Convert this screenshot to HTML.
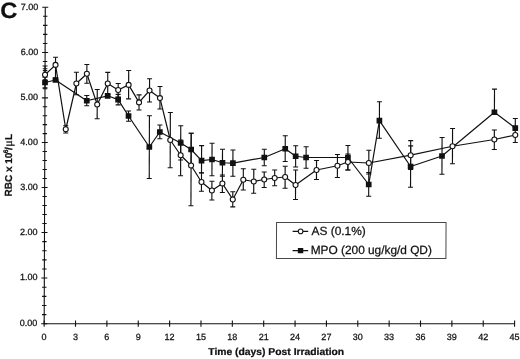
<!DOCTYPE html>
<html lang="en"><head><meta charset="utf-8"><title>Figure C</title>
<style>html,body{margin:0;padding:0;background:#fff}svg{display:block}text{font-family:"Liberation Sans",Arial,sans-serif;fill:#111;stroke:#111;stroke-width:0.25px}</style></head><body>
<svg width="520" height="359" viewBox="0 0 520 359">
<rect width="520" height="359" fill="#fff"/>
<g transform="matrix(1 0 -0.0035 1 1.133 0)">
<g stroke="#111" stroke-width="1.1" fill="none">
<line x1="44.17" y1="7.25" x2="44.17" y2="324.3"/>
<line x1="43.67" y1="323.8" x2="514.60" y2="323.8"/>
<line x1="41.17" y1="323.80" x2="47.17" y2="323.80"/>
<line x1="41.97" y1="314.65" x2="46.370000000000005" y2="314.65"/>
<line x1="41.97" y1="305.50" x2="46.370000000000005" y2="305.50"/>
<line x1="41.97" y1="296.35" x2="46.370000000000005" y2="296.35"/>
<line x1="41.97" y1="287.20" x2="46.370000000000005" y2="287.20"/>
<line x1="41.17" y1="278.05" x2="47.17" y2="278.05"/>
<line x1="41.97" y1="268.95" x2="46.370000000000005" y2="268.95"/>
<line x1="41.97" y1="259.85" x2="46.370000000000005" y2="259.85"/>
<line x1="41.97" y1="250.75" x2="46.370000000000005" y2="250.75"/>
<line x1="41.97" y1="241.65" x2="46.370000000000005" y2="241.65"/>
<line x1="41.17" y1="232.55" x2="47.17" y2="232.55"/>
<line x1="41.97" y1="223.54" x2="46.370000000000005" y2="223.54"/>
<line x1="41.97" y1="214.53" x2="46.370000000000005" y2="214.53"/>
<line x1="41.97" y1="205.52" x2="46.370000000000005" y2="205.52"/>
<line x1="41.97" y1="196.51" x2="46.370000000000005" y2="196.51"/>
<line x1="41.17" y1="187.50" x2="47.17" y2="187.50"/>
<line x1="41.97" y1="178.51" x2="46.370000000000005" y2="178.51"/>
<line x1="41.97" y1="169.52" x2="46.370000000000005" y2="169.52"/>
<line x1="41.97" y1="160.53" x2="46.370000000000005" y2="160.53"/>
<line x1="41.97" y1="151.54" x2="46.370000000000005" y2="151.54"/>
<line x1="41.17" y1="142.55" x2="47.17" y2="142.55"/>
<line x1="41.97" y1="133.61" x2="46.370000000000005" y2="133.61"/>
<line x1="41.97" y1="124.67" x2="46.370000000000005" y2="124.67"/>
<line x1="41.97" y1="115.73" x2="46.370000000000005" y2="115.73"/>
<line x1="41.97" y1="106.79" x2="46.370000000000005" y2="106.79"/>
<line x1="41.17" y1="97.85" x2="47.17" y2="97.85"/>
<line x1="41.97" y1="88.78" x2="46.370000000000005" y2="88.78"/>
<line x1="41.97" y1="79.71" x2="46.370000000000005" y2="79.71"/>
<line x1="41.97" y1="70.64" x2="46.370000000000005" y2="70.64"/>
<line x1="41.97" y1="61.57" x2="46.370000000000005" y2="61.57"/>
<line x1="41.17" y1="52.50" x2="47.17" y2="52.50"/>
<line x1="41.97" y1="43.45" x2="46.370000000000005" y2="43.45"/>
<line x1="41.97" y1="34.40" x2="46.370000000000005" y2="34.40"/>
<line x1="41.97" y1="25.35" x2="46.370000000000005" y2="25.35"/>
<line x1="41.97" y1="16.30" x2="46.370000000000005" y2="16.30"/>
<line x1="41.17" y1="7.25" x2="47.17" y2="7.25"/>
<line x1="44.17" y1="320.6" x2="44.17" y2="326.8"/>
<line x1="75.53" y1="320.6" x2="75.53" y2="326.8"/>
<line x1="106.89" y1="320.6" x2="106.89" y2="326.8"/>
<line x1="138.26" y1="320.6" x2="138.26" y2="326.8"/>
<line x1="169.62" y1="320.6" x2="169.62" y2="326.8"/>
<line x1="200.98" y1="320.6" x2="200.98" y2="326.8"/>
<line x1="232.34" y1="320.6" x2="232.34" y2="326.8"/>
<line x1="263.70" y1="320.6" x2="263.70" y2="326.8"/>
<line x1="295.07" y1="320.6" x2="295.07" y2="326.8"/>
<line x1="326.43" y1="320.6" x2="326.43" y2="326.8"/>
<line x1="357.79" y1="320.6" x2="357.79" y2="326.8"/>
<line x1="389.15" y1="320.6" x2="389.15" y2="326.8"/>
<line x1="420.51" y1="320.6" x2="420.51" y2="326.8"/>
<line x1="451.88" y1="320.6" x2="451.88" y2="326.8"/>
<line x1="483.24" y1="320.6" x2="483.24" y2="326.8"/>
<line x1="514.60" y1="320.6" x2="514.60" y2="326.8"/>
</g>
<text transform="translate(37.27 326.10) scale(1 1)" font-size="9" text-anchor="end">0.00</text>
<text transform="translate(37.27 280.35) scale(1 1)" font-size="9" text-anchor="end">1.00</text>
<text transform="translate(37.27 234.85) scale(1 1)" font-size="9" text-anchor="end">2.00</text>
<text transform="translate(37.27 189.80) scale(1 1)" font-size="9" text-anchor="end">3.00</text>
<text transform="translate(37.27 144.85) scale(1 1)" font-size="9" text-anchor="end">4.00</text>
<text transform="translate(37.27 100.15) scale(1 1)" font-size="9" text-anchor="end">5.00</text>
<text transform="translate(37.27 54.80) scale(1 1)" font-size="9" text-anchor="end">6.00</text>
<text transform="translate(37.27 9.55) scale(1 1)" font-size="9" text-anchor="end">7.00</text>
<text transform="translate(44.17 340.30) scale(1 1)" font-size="9" text-anchor="middle">0</text>
<text transform="translate(75.53 340.30) scale(1 1)" font-size="9" text-anchor="middle">3</text>
<text transform="translate(106.89 340.30) scale(1 1)" font-size="9" text-anchor="middle">6</text>
<text transform="translate(138.26 340.30) scale(1 1)" font-size="9" text-anchor="middle">9</text>
<text transform="translate(169.62 340.30) scale(1 1)" font-size="9" text-anchor="middle">12</text>
<text transform="translate(200.98 340.30) scale(1 1)" font-size="9" text-anchor="middle">15</text>
<text transform="translate(232.34 340.30) scale(1 1)" font-size="9" text-anchor="middle">18</text>
<text transform="translate(263.70 340.30) scale(1 1)" font-size="9" text-anchor="middle">21</text>
<text transform="translate(295.07 340.30) scale(1 1)" font-size="9" text-anchor="middle">24</text>
<text transform="translate(326.43 340.30) scale(1 1)" font-size="9" text-anchor="middle">27</text>
<text transform="translate(357.79 340.30) scale(1 1)" font-size="9" text-anchor="middle">30</text>
<text transform="translate(389.15 340.30) scale(1 1)" font-size="9" text-anchor="middle">33</text>
<text transform="translate(420.51 340.30) scale(1 1)" font-size="9" text-anchor="middle">36</text>
<text transform="translate(451.88 340.30) scale(1 1)" font-size="9" text-anchor="middle">39</text>
<text transform="translate(483.24 340.30) scale(1 1)" font-size="9" text-anchor="middle">42</text>
<text transform="translate(514.60 340.30) scale(1 1)" font-size="9" text-anchor="middle">45</text>
<g stroke="#111" stroke-width="1.15" fill="none">
<line x1="44.17" y1="77.2" x2="44.17" y2="87.8"/>
<line x1="41.67" y1="77.2" x2="46.67" y2="77.2"/>
<line x1="41.67" y1="87.8" x2="46.67" y2="87.8"/>
<line x1="54.62" y1="80.0" x2="54.62" y2="80.0"/>
<line x1="85.99" y1="95.5" x2="85.99" y2="105.75"/>
<line x1="83.49" y1="95.5" x2="88.49" y2="95.5"/>
<line x1="83.49" y1="105.75" x2="88.49" y2="105.75"/>
<line x1="106.89" y1="95.8" x2="106.89" y2="95.8"/>
<line x1="117.35" y1="94.3" x2="117.35" y2="104.9"/>
<line x1="114.85" y1="94.3" x2="119.85" y2="94.3"/>
<line x1="114.85" y1="104.9" x2="119.85" y2="104.9"/>
<line x1="127.80" y1="111.0" x2="127.80" y2="121.25"/>
<line x1="125.30" y1="111.0" x2="130.30" y2="111.0"/>
<line x1="125.30" y1="121.25" x2="130.30" y2="121.25"/>
<line x1="148.71" y1="115.75" x2="148.71" y2="178.5"/>
<line x1="146.21" y1="115.75" x2="151.21" y2="115.75"/>
<line x1="146.21" y1="178.5" x2="151.21" y2="178.5"/>
<line x1="159.16" y1="125.0" x2="159.16" y2="138.75"/>
<line x1="156.66" y1="125.0" x2="161.66" y2="125.0"/>
<line x1="156.66" y1="138.75" x2="161.66" y2="138.75"/>
<line x1="180.07" y1="125.75" x2="180.07" y2="160.0"/>
<line x1="177.57" y1="125.75" x2="182.57" y2="125.75"/>
<line x1="177.57" y1="160.0" x2="182.57" y2="160.0"/>
<line x1="190.53" y1="133.25" x2="190.53" y2="165.75"/>
<line x1="188.03" y1="133.25" x2="193.03" y2="133.25"/>
<line x1="188.03" y1="165.75" x2="193.03" y2="165.75"/>
<line x1="200.98" y1="145.6" x2="200.98" y2="173.0"/>
<line x1="198.48" y1="145.6" x2="203.48" y2="145.6"/>
<line x1="198.48" y1="173.0" x2="203.48" y2="173.0"/>
<line x1="211.43" y1="143.25" x2="211.43" y2="175.75"/>
<line x1="208.93" y1="143.25" x2="213.93" y2="143.25"/>
<line x1="208.93" y1="175.75" x2="213.93" y2="175.75"/>
<line x1="221.89" y1="149.25" x2="221.89" y2="176.25"/>
<line x1="219.39" y1="149.25" x2="224.39" y2="149.25"/>
<line x1="219.39" y1="176.25" x2="224.39" y2="176.25"/>
<line x1="232.34" y1="150.0" x2="232.34" y2="176.25"/>
<line x1="229.84" y1="150.0" x2="234.84" y2="150.0"/>
<line x1="229.84" y1="176.25" x2="234.84" y2="176.25"/>
<line x1="263.70" y1="149.25" x2="263.70" y2="165.75"/>
<line x1="261.20" y1="149.25" x2="266.20" y2="149.25"/>
<line x1="261.20" y1="165.75" x2="266.20" y2="165.75"/>
<line x1="284.61" y1="135.75" x2="284.61" y2="161.5"/>
<line x1="282.11" y1="135.75" x2="287.11" y2="135.75"/>
<line x1="282.11" y1="161.5" x2="287.11" y2="161.5"/>
<line x1="295.07" y1="145.75" x2="295.07" y2="167.0"/>
<line x1="292.57" y1="145.75" x2="297.57" y2="145.75"/>
<line x1="292.57" y1="167.0" x2="297.57" y2="167.0"/>
<line x1="305.52" y1="146.75" x2="305.52" y2="168.25"/>
<line x1="303.02" y1="146.75" x2="308.02" y2="146.75"/>
<line x1="303.02" y1="168.25" x2="308.02" y2="168.25"/>
<line x1="347.34" y1="145.5" x2="347.34" y2="170.0"/>
<line x1="344.84" y1="145.5" x2="349.84" y2="145.5"/>
<line x1="344.84" y1="170.0" x2="349.84" y2="170.0"/>
<line x1="368.24" y1="172.5" x2="368.24" y2="196.25"/>
<line x1="365.74" y1="172.5" x2="370.74" y2="172.5"/>
<line x1="365.74" y1="196.25" x2="370.74" y2="196.25"/>
<line x1="378.70" y1="101.75" x2="378.70" y2="138.25"/>
<line x1="376.20" y1="101.75" x2="381.20" y2="101.75"/>
<line x1="376.20" y1="138.25" x2="381.20" y2="138.25"/>
<line x1="410.06" y1="145.9" x2="410.06" y2="187.2"/>
<line x1="407.56" y1="145.9" x2="412.56" y2="145.9"/>
<line x1="407.56" y1="187.2" x2="412.56" y2="187.2"/>
<line x1="441.42" y1="137.5" x2="441.42" y2="174.25"/>
<line x1="438.92" y1="137.5" x2="443.92" y2="137.5"/>
<line x1="438.92" y1="174.25" x2="443.92" y2="174.25"/>
<line x1="493.69" y1="89.1" x2="493.69" y2="112.25"/>
<line x1="491.19" y1="89.1" x2="496.19" y2="89.1"/>
<line x1="514.60" y1="118.5" x2="514.60" y2="128.1"/>
<line x1="512.10" y1="118.5" x2="517.10" y2="118.5"/>
</g>
<polyline points="44.17,82.5 54.62,80.0 85.99,100.75 106.89,95.8 117.35,99.6 127.80,116.0 148.71,147.0 159.16,132.0 180.07,143.0 190.53,149.5 200.98,160.6 211.43,159.5 221.89,162.75 232.34,163.1 263.70,157.5 284.61,148.75 295.07,156.25 305.52,157.5 347.34,157.5 368.24,184.5 378.70,120.6 410.06,166.5 441.42,156.0 493.69,112.25 514.60,128.1" fill="none" stroke="#111" stroke-width="1.2" stroke-linejoin="round"/>
<rect x="41.32" y="79.65" width="5.7" height="5.7" fill="#111"/>
<rect x="51.77" y="77.15" width="5.7" height="5.7" fill="#111"/>
<rect x="83.14" y="97.9" width="5.7" height="5.7" fill="#111"/>
<rect x="104.04" y="92.95" width="5.7" height="5.7" fill="#111"/>
<rect x="114.50" y="96.75" width="5.7" height="5.7" fill="#111"/>
<rect x="124.95" y="113.15" width="5.7" height="5.7" fill="#111"/>
<rect x="145.86" y="144.15" width="5.7" height="5.7" fill="#111"/>
<rect x="156.31" y="129.15" width="5.7" height="5.7" fill="#111"/>
<rect x="177.22" y="140.15" width="5.7" height="5.7" fill="#111"/>
<rect x="187.68" y="146.65" width="5.7" height="5.7" fill="#111"/>
<rect x="198.13" y="157.75" width="5.7" height="5.7" fill="#111"/>
<rect x="208.58" y="156.65" width="5.7" height="5.7" fill="#111"/>
<rect x="219.04" y="159.9" width="5.7" height="5.7" fill="#111"/>
<rect x="229.49" y="160.25" width="5.7" height="5.7" fill="#111"/>
<rect x="260.85" y="154.65" width="5.7" height="5.7" fill="#111"/>
<rect x="281.76" y="145.9" width="5.7" height="5.7" fill="#111"/>
<rect x="292.22" y="153.4" width="5.7" height="5.7" fill="#111"/>
<rect x="302.67" y="154.65" width="5.7" height="5.7" fill="#111"/>
<rect x="344.49" y="154.65" width="5.7" height="5.7" fill="#111"/>
<rect x="365.39" y="181.65" width="5.7" height="5.7" fill="#111"/>
<rect x="375.85" y="117.75" width="5.7" height="5.7" fill="#111"/>
<rect x="407.21" y="163.65" width="5.7" height="5.7" fill="#111"/>
<rect x="438.57" y="153.15" width="5.7" height="5.7" fill="#111"/>
<rect x="490.84" y="109.4" width="5.7" height="5.7" fill="#111"/>
<rect x="511.75" y="125.25" width="5.7" height="5.7" fill="#111"/>
<g stroke="#111" stroke-width="1.15" fill="none">
<line x1="44.17" y1="66.0" x2="44.17" y2="74.7"/>
<line x1="41.67" y1="66.0" x2="46.67" y2="66.0"/>
<line x1="54.62" y1="57.2" x2="54.62" y2="78.0"/>
<line x1="52.12" y1="57.2" x2="57.12" y2="57.2"/>
<line x1="52.12" y1="78.0" x2="57.12" y2="78.0"/>
<line x1="65.08" y1="125.75" x2="65.08" y2="133.0"/>
<line x1="62.58" y1="125.75" x2="67.58" y2="125.75"/>
<line x1="62.58" y1="133.0" x2="67.58" y2="133.0"/>
<line x1="75.53" y1="72.2" x2="75.53" y2="94.7"/>
<line x1="73.03" y1="72.2" x2="78.03" y2="72.2"/>
<line x1="73.03" y1="94.7" x2="78.03" y2="94.7"/>
<line x1="85.99" y1="64.5" x2="85.99" y2="83.2"/>
<line x1="83.49" y1="64.5" x2="88.49" y2="64.5"/>
<line x1="83.49" y1="83.2" x2="88.49" y2="83.2"/>
<line x1="96.44" y1="89.5" x2="96.44" y2="118.75"/>
<line x1="93.94" y1="89.5" x2="98.94" y2="89.5"/>
<line x1="93.94" y1="118.75" x2="98.94" y2="118.75"/>
<line x1="106.89" y1="72.4" x2="106.89" y2="94.6"/>
<line x1="104.39" y1="72.4" x2="109.39" y2="72.4"/>
<line x1="104.39" y1="94.6" x2="109.39" y2="94.6"/>
<line x1="117.35" y1="83.5" x2="117.35" y2="97.0"/>
<line x1="114.85" y1="83.5" x2="119.85" y2="83.5"/>
<line x1="114.85" y1="97.0" x2="119.85" y2="97.0"/>
<line x1="127.80" y1="70.5" x2="127.80" y2="98.9"/>
<line x1="125.30" y1="70.5" x2="130.30" y2="70.5"/>
<line x1="125.30" y1="98.9" x2="130.30" y2="98.9"/>
<line x1="138.26" y1="94.9" x2="138.26" y2="110.0"/>
<line x1="135.76" y1="94.9" x2="140.76" y2="94.9"/>
<line x1="135.76" y1="110.0" x2="140.76" y2="110.0"/>
<line x1="148.71" y1="78.75" x2="148.71" y2="102.0"/>
<line x1="146.21" y1="78.75" x2="151.21" y2="78.75"/>
<line x1="146.21" y1="102.0" x2="151.21" y2="102.0"/>
<line x1="159.16" y1="86.5" x2="159.16" y2="109.0"/>
<line x1="156.66" y1="86.5" x2="161.66" y2="86.5"/>
<line x1="156.66" y1="109.0" x2="161.66" y2="109.0"/>
<line x1="169.62" y1="112.5" x2="169.62" y2="167.75"/>
<line x1="167.12" y1="112.5" x2="172.12" y2="112.5"/>
<line x1="167.12" y1="167.75" x2="172.12" y2="167.75"/>
<line x1="180.07" y1="140.0" x2="180.07" y2="175.75"/>
<line x1="177.57" y1="140.0" x2="182.57" y2="140.0"/>
<line x1="177.57" y1="175.75" x2="182.57" y2="175.75"/>
<line x1="190.53" y1="133.25" x2="190.53" y2="205.75"/>
<line x1="188.03" y1="133.25" x2="193.03" y2="133.25"/>
<line x1="188.03" y1="205.75" x2="193.03" y2="205.75"/>
<line x1="200.98" y1="172.75" x2="200.98" y2="191.25"/>
<line x1="198.48" y1="172.75" x2="203.48" y2="172.75"/>
<line x1="198.48" y1="191.25" x2="203.48" y2="191.25"/>
<line x1="211.43" y1="181.25" x2="211.43" y2="200.0"/>
<line x1="208.93" y1="181.25" x2="213.93" y2="181.25"/>
<line x1="208.93" y1="200.0" x2="213.93" y2="200.0"/>
<line x1="221.89" y1="175.0" x2="221.89" y2="192.5"/>
<line x1="219.39" y1="175.0" x2="224.39" y2="175.0"/>
<line x1="219.39" y1="192.5" x2="224.39" y2="192.5"/>
<line x1="232.34" y1="191.75" x2="232.34" y2="206.9"/>
<line x1="229.84" y1="191.75" x2="234.84" y2="191.75"/>
<line x1="229.84" y1="206.9" x2="234.84" y2="206.9"/>
<line x1="242.80" y1="168.75" x2="242.80" y2="190.0"/>
<line x1="240.30" y1="168.75" x2="245.30" y2="168.75"/>
<line x1="240.30" y1="190.0" x2="245.30" y2="190.0"/>
<line x1="253.25" y1="169.25" x2="253.25" y2="193.25"/>
<line x1="250.75" y1="169.25" x2="255.75" y2="169.25"/>
<line x1="250.75" y1="193.25" x2="255.75" y2="193.25"/>
<line x1="263.70" y1="172.0" x2="263.70" y2="187.5"/>
<line x1="261.20" y1="172.0" x2="266.20" y2="172.0"/>
<line x1="261.20" y1="187.5" x2="266.20" y2="187.5"/>
<line x1="274.16" y1="170.0" x2="274.16" y2="185.75"/>
<line x1="271.66" y1="170.0" x2="276.66" y2="170.0"/>
<line x1="271.66" y1="185.75" x2="276.66" y2="185.75"/>
<line x1="284.61" y1="166.25" x2="284.61" y2="188.25"/>
<line x1="282.11" y1="166.25" x2="287.11" y2="166.25"/>
<line x1="282.11" y1="188.25" x2="287.11" y2="188.25"/>
<line x1="295.07" y1="170.0" x2="295.07" y2="199.5"/>
<line x1="292.57" y1="170.0" x2="297.57" y2="170.0"/>
<line x1="292.57" y1="199.5" x2="297.57" y2="199.5"/>
<line x1="315.97" y1="160.5" x2="315.97" y2="179.5"/>
<line x1="313.47" y1="160.5" x2="318.47" y2="160.5"/>
<line x1="313.47" y1="179.5" x2="318.47" y2="179.5"/>
<line x1="336.88" y1="154.5" x2="336.88" y2="177.5"/>
<line x1="334.38" y1="154.5" x2="339.38" y2="154.5"/>
<line x1="334.38" y1="177.5" x2="339.38" y2="177.5"/>
<line x1="347.34" y1="154.0" x2="347.34" y2="170.0"/>
<line x1="344.84" y1="154.0" x2="349.84" y2="154.0"/>
<line x1="344.84" y1="170.0" x2="349.84" y2="170.0"/>
<line x1="368.24" y1="150.2" x2="368.24" y2="174.0"/>
<line x1="365.74" y1="150.2" x2="370.74" y2="150.2"/>
<line x1="365.74" y1="174.0" x2="370.74" y2="174.0"/>
<line x1="410.06" y1="140.65" x2="410.06" y2="169.5"/>
<line x1="407.56" y1="140.65" x2="412.56" y2="140.65"/>
<line x1="407.56" y1="169.5" x2="412.56" y2="169.5"/>
<line x1="451.88" y1="128.5" x2="451.88" y2="163.75"/>
<line x1="449.38" y1="128.5" x2="454.38" y2="128.5"/>
<line x1="449.38" y1="163.75" x2="454.38" y2="163.75"/>
<line x1="493.69" y1="130.0" x2="493.69" y2="149.5"/>
<line x1="491.19" y1="130.0" x2="496.19" y2="130.0"/>
<line x1="491.19" y1="149.5" x2="496.19" y2="149.5"/>
<line x1="514.60" y1="127.5" x2="514.60" y2="142.5"/>
<line x1="512.10" y1="127.5" x2="517.10" y2="127.5"/>
<line x1="512.10" y1="142.5" x2="517.10" y2="142.5"/>
</g>
<polyline points="44.17,74.7 54.62,64.9 65.08,129.25 75.53,83.5 85.99,73.7 96.44,104.5 106.89,83.5 117.35,90.0 127.80,84.9 138.26,102.4 148.71,90.5 159.16,98.1 169.62,140.0 180.07,155.25 190.53,165.5 200.98,182.0 211.43,190.5 221.89,183.5 232.34,199.45 242.80,179.75 253.25,181.5 263.70,179.5 274.16,178.0 284.61,177.0 295.07,185.0 315.97,170.0 336.88,165.75 347.34,162.0 368.24,163.0 410.06,155.2 451.88,146.25 493.69,139.5 514.60,135.0" fill="none" stroke="#111" stroke-width="1.2" stroke-linejoin="round"/>
<circle cx="44.17" cy="74.7" r="2.5" fill="#fff" stroke="#111" stroke-width="1.1"/>
<circle cx="54.62" cy="64.9" r="2.5" fill="#fff" stroke="#111" stroke-width="1.1"/>
<circle cx="65.08" cy="129.25" r="2.5" fill="#fff" stroke="#111" stroke-width="1.1"/>
<circle cx="75.53" cy="83.5" r="2.5" fill="#fff" stroke="#111" stroke-width="1.1"/>
<circle cx="85.99" cy="73.7" r="2.5" fill="#fff" stroke="#111" stroke-width="1.1"/>
<circle cx="96.44" cy="104.5" r="2.5" fill="#fff" stroke="#111" stroke-width="1.1"/>
<circle cx="106.89" cy="83.5" r="2.5" fill="#fff" stroke="#111" stroke-width="1.1"/>
<circle cx="117.35" cy="90.0" r="2.5" fill="#fff" stroke="#111" stroke-width="1.1"/>
<circle cx="127.80" cy="84.9" r="2.5" fill="#fff" stroke="#111" stroke-width="1.1"/>
<circle cx="138.26" cy="102.4" r="2.5" fill="#fff" stroke="#111" stroke-width="1.1"/>
<circle cx="148.71" cy="90.5" r="2.5" fill="#fff" stroke="#111" stroke-width="1.1"/>
<circle cx="159.16" cy="98.1" r="2.5" fill="#fff" stroke="#111" stroke-width="1.1"/>
<circle cx="169.62" cy="140.0" r="2.5" fill="#fff" stroke="#111" stroke-width="1.1"/>
<circle cx="180.07" cy="155.25" r="2.5" fill="#fff" stroke="#111" stroke-width="1.1"/>
<circle cx="190.53" cy="165.5" r="2.5" fill="#fff" stroke="#111" stroke-width="1.1"/>
<circle cx="200.98" cy="182.0" r="2.5" fill="#fff" stroke="#111" stroke-width="1.1"/>
<circle cx="211.43" cy="190.5" r="2.5" fill="#fff" stroke="#111" stroke-width="1.1"/>
<circle cx="221.89" cy="183.5" r="2.5" fill="#fff" stroke="#111" stroke-width="1.1"/>
<circle cx="232.34" cy="199.45" r="2.5" fill="#fff" stroke="#111" stroke-width="1.1"/>
<circle cx="242.80" cy="179.75" r="2.5" fill="#fff" stroke="#111" stroke-width="1.1"/>
<circle cx="253.25" cy="181.5" r="2.5" fill="#fff" stroke="#111" stroke-width="1.1"/>
<circle cx="263.70" cy="179.5" r="2.5" fill="#fff" stroke="#111" stroke-width="1.1"/>
<circle cx="274.16" cy="178.0" r="2.5" fill="#fff" stroke="#111" stroke-width="1.1"/>
<circle cx="284.61" cy="177.0" r="2.5" fill="#fff" stroke="#111" stroke-width="1.1"/>
<circle cx="295.07" cy="185.0" r="2.5" fill="#fff" stroke="#111" stroke-width="1.1"/>
<circle cx="315.97" cy="170.0" r="2.5" fill="#fff" stroke="#111" stroke-width="1.1"/>
<circle cx="336.88" cy="165.75" r="2.5" fill="#fff" stroke="#111" stroke-width="1.1"/>
<circle cx="347.34" cy="162.0" r="2.5" fill="#fff" stroke="#111" stroke-width="1.1"/>
<circle cx="368.24" cy="163.0" r="2.5" fill="#fff" stroke="#111" stroke-width="1.1"/>
<circle cx="410.06" cy="155.2" r="2.5" fill="#fff" stroke="#111" stroke-width="1.1"/>
<circle cx="451.88" cy="146.25" r="2.5" fill="#fff" stroke="#111" stroke-width="1.1"/>
<circle cx="493.69" cy="139.5" r="2.5" fill="#fff" stroke="#111" stroke-width="1.1"/>
<circle cx="514.60" cy="135.0" r="2.5" fill="#fff" stroke="#111" stroke-width="1.1"/>
<line x1="41.870000000000005" y1="68.8" x2="46.47" y2="68.8" stroke="#111"/>
<rect x="276.2" y="222.5" width="169.5" height="36.1" fill="#fff" stroke="#484848" stroke-width="1"/>
<line x1="292.3" y1="231.4" x2="307.9" y2="231.4" stroke="#111" stroke-width="1.1"/>
<circle cx="300.3" cy="231.4" r="2.3" fill="#fff" stroke="#111"/>
<line x1="292.3" y1="250.6" x2="307.9" y2="250.6" stroke="#111" stroke-width="1.1"/>
<rect x="297.6" y="247.9" width="5.4" height="5.4" fill="#111"/>
<text transform="translate(311.20 235.30) scale(1 1)" font-size="11.9" text-anchor="start">AS (0.1%)</text>
<text transform="translate(310.50 254.40) scale(1 1)" font-size="11.85" text-anchor="start">MPO (200 ug/kg/d QD)</text>
<text transform="translate(208.40 355.10) scale(1.035 1)" font-size="10" text-anchor="start" font-weight="bold">Time (days) Post Irradiation</text>
<text transform="translate(11.4 196.5) rotate(-90) scale(1.0 1)" font-size="10" font-weight="bold">RBC x 10<tspan dx="-0.7" dy="-3.9" font-size="6.7">6</tspan><tspan dx="-0.3" dy="3.9">/</tspan><tspan dx="0.4" font-weight="normal" font-family="'Liberation Serif','DejaVu Serif',serif" font-size="12">μ</tspan><tspan dx="0.2">L</tspan></text>
<text transform="translate(-0.90 17.90) scale(1.06 1)" font-size="22.3" text-anchor="start" font-weight="bold" fill="#000">C</text>
</g>
</svg></body></html>
